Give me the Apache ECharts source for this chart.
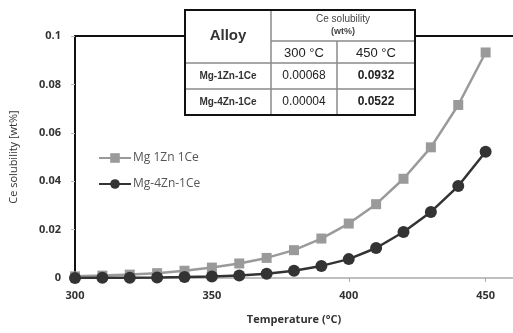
<!DOCTYPE html>
<html><head><meta charset="utf-8">
<script src="https://cdn.jsdelivr.net/npm/echarts@6/dist/echarts.min.js"></script>
<style>html,body{margin:0;padding:0;background:#fff}#c{width:513px;height:333px}</style>
</head><body><div id="c"></div>
<script>
const temps = [300,310,320,330,340,350,360,370,380,390,400,410,420,430,440,450];
const mg1Zn = [0.00068,0.001,0.0014,0.002,0.003,0.0043,0.006,0.0083,0.0115,0.0163,0.0225,0.0305,0.041,0.054,0.0715,0.0932];
const mg4Zn = [0.00004,0.00008,0.00015,0.00025,0.0004,0.0006,0.001,0.0018,0.003,0.005,0.0078,0.0124,0.019,0.0273,0.038,0.0522];
const seriesNames = ['Mg 1Zn 1Ce','Mg-4Zn-1Ce'];
const tableHeader = ['Alloy','Ce solubility','(wt%)','300 °C','450 °C'];
const tableRows = [['Mg-1Zn-1Ce','0.00068','0.0932'],['Mg-4Zn-1Ce','0.00004','0.0522']];

const chart = echarts.init(document.getElementById('c'));
const F = 'Liberation Sans, Arial, sans-serif';
const L = 'Open Sans, Lato, sans-serif';
const tx=[185,271,337,415], ty=[10,41,63,89,115];
const g = [];
g.push({type:'rect',shape:{x:tx[0],y:ty[0],width:tx[3]-tx[0],height:ty[4]-ty[0]},style:{fill:'#fff',stroke:'none'},z:100});
const thin = {stroke:'#8a8a8a',lineWidth:1.5};
g.push({type:'line',shape:{x1:tx[1],y1:ty[0],x2:tx[1],y2:ty[4]},style:thin,z:101});
g.push({type:'line',shape:{x1:tx[2],y1:ty[1],x2:tx[2],y2:ty[4]},style:thin,z:101});
g.push({type:'line',shape:{x1:tx[1],y1:ty[1],x2:tx[3],y2:ty[1]},style:thin,z:101});
g.push({type:'line',shape:{x1:tx[0],y1:ty[2],x2:tx[3],y2:ty[2]},style:thin,z:101});
g.push({type:'line',shape:{x1:tx[0],y1:ty[3],x2:tx[3],y2:ty[3]},style:thin,z:101});
g.push({type:'rect',shape:{x:tx[0],y:ty[0],width:tx[3]-tx[0],height:ty[4]-ty[0]},style:{fill:'none',stroke:'#111',lineWidth:2},z:102});
function T(t,x,y,sz,w,col){g.push({type:'text',x:x,y:y,z:103,style:{text:t,fill:col||'#222',font:(w||'normal')+' '+sz+'px '+F,textAlign:'center',textVerticalAlign:'middle'}});}
T(tableHeader[0],(tx[0]+tx[1])/2,(ty[0]+ty[2])/2-1,15,'bold','#333');
T(tableHeader[1],(tx[1]+tx[3])/2,19,10,'normal','#444');
T(tableHeader[2],(tx[1]+tx[3])/2,32,9,'bold','#444');
T(tableHeader[3],(tx[1]+tx[2])/2,53,13,'normal','#222');
T(tableHeader[4],(tx[2]+tx[3])/2,53,13,'normal','#222');
tableRows.forEach((r,i)=>{
  const cy=(ty[2+i]+ty[3+i])/2;
  T(r[0],(tx[0]+tx[1])/2,cy,10,'bold','#333');
  T(r[1],(tx[1]+tx[2])/2,cy,12,'normal','#222');
  T(r[2],(tx[2]+tx[3])/2,cy,12,'bold','#222');
});

chart.setOption({
  animation:false,
  backgroundColor:'#fff',
  grid:{left:74,right:-3,top:36,bottom:55,containLabel:false},
  legend:{orient:'vertical',left:93,top:147,itemGap:14,itemWidth:32,itemHeight:12,
    textStyle:{fontFamily:L,fontSize:12,color:'#555',padding:[0,0,0,-3]},
    data:seriesNames},
  xAxis:[{type:'value',min:300,max:460,interval:50,
    axisLine:{lineStyle:{color:'#aaa',width:1.5}},
    axisTick:{show:true,length:4,lineStyle:{color:'#aaa'}},
    axisLabel:{showMaxLabel:false,margin:12,fontFamily:L,fontWeight:'bold',fontSize:11,color:'#333'},
    splitLine:{show:false},
    name:'Temperature (°C)',nameLocation:'middle',nameGap:36,
    nameTextStyle:{fontFamily:L,fontWeight:'bold',fontSize:11,color:'#333'}},
   {type:'value',position:'top',min:300,max:460,
    axisLine:{show:true,lineStyle:{color:'#111',width:2}},axisTick:{show:false},axisLabel:{show:false},splitLine:{show:false}}],
  yAxis:{type:'value',min:0,max:0.1,interval:0.02,
    axisLine:{show:true,lineStyle:{color:'#111',width:2}},
    axisTick:{show:true,length:4,lineStyle:{color:'#bbb'}},
    axisLabel:{margin:14,fontFamily:L,fontWeight:'bold',fontSize:11,color:'#333',
      formatter:v=>String(Math.round(v*100)/100)},
    splitLine:{show:false},
    name:'Ce solubility [wt%]',nameLocation:'middle',nameGap:56,
    nameTextStyle:{fontFamily:L,fontSize:11,color:'#333'}},
  series:[
    {name:seriesNames[0],type:'line',data:temps.map((t,i)=>[t,mg1Zn[i]]),
     symbol:'rect',symbolSize:10,lineStyle:{color:'#9a9a9a',width:2.5},itemStyle:{color:'#9a9a9a'},z:2},
    {name:seriesNames[1],type:'line',data:temps.map((t,i)=>[t,mg4Zn[i]]),
     symbol:'circle',symbolSize:12,lineStyle:{color:'#333',width:2.5},itemStyle:{color:'#333'},z:3}
  ],
  graphic:g
});
</script></body></html>
